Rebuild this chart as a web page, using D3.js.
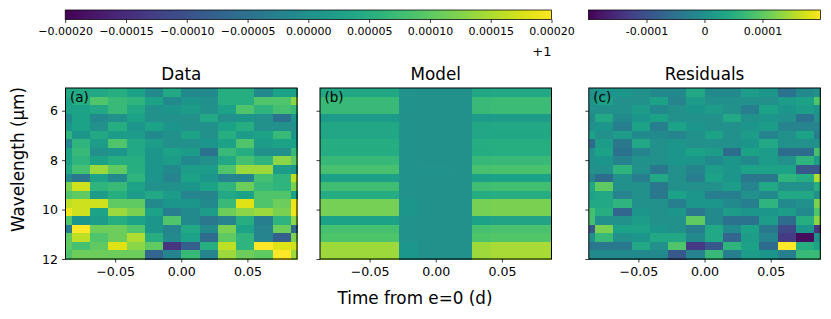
<!DOCTYPE html>
<html><head><meta charset="utf-8">
<script src="https://cdn.jsdelivr.net/npm/d3@7/dist/d3.min.js"></script>
<style>
html,body{margin:0;padding:0;background:#fff}
svg{display:block}
text{font-family:"DejaVu Sans",sans-serif;fill:#000}
</style></head><body>
<svg id="c" width="831" height="319"></svg>
<script>
const timeEdges=[-0.0875,-0.0827,-0.0689,-0.0551,-0.0413,-0.0275,-0.0137,0.0001,0.0139,0.0277,0.0415,0.0553,0.0691,0.0829,0.0875];
const waveEdges=[5.08,5.426,5.772,6.118,6.464,6.81,7.156,7.502,7.848,8.194,8.54,8.886,9.232,9.578,9.924,10.27,10.616,10.962,11.308,11.654,12];
const panelTitles=["Data","Model","Residuals"];
const panelLetters=["(a)","(b)","(c)"];
const timeTicks=[-0.05,0,0.05];
const waveTicks=[6,8,10,12];
const mainBarTicks=[-0.0002,-0.00015,-0.0001,-0.00005,0,0.00005,0.0001,0.00015,0.0002];
const mainBarLabels=["−0.00020","−0.00015","−0.00010","−0.00005","0.00000","0.00005","0.00010","0.00015","0.00020"];
const resBarTicks=[-0.0001,0,0.0001];
const resBarLabels=["-0.0001","0","0.0001"];
// flux minus one (data, model) and residuals, in units of 1e-5
const dataValues=[
[4,4,4,5,3,-1,4,-1,-1,5,5,-1,3,3],
[3,5,9,7,6,3,-1,1,0,5,5,9,9,13],
[3,3,4,7,4,0,1,2,0,3,9,6,8,7],
[-1,3,-1,0,3,0,0,0,4,0,1,0,-5,1],
[1,3,0,5,1,3,1,0,0,3,5,0,0,0],
[6,1,4,2,2,-1,0,3,0,5,2,3,7,1],
[-2,6,2,9,4,2,0,0,1,3,9,2,3,3],
[3,7,0,1,4,1,3,2,-5,7,5,0,0,7],
[3,6,3,5,5,1,2,-1,0,4,8,6,13,10],
[4,8,14,10,5,1,-1,2,2,9,14,14,2,1],
[-1,-4,3,-1,6,1,-2,3,1,-2,-2,8,6,16],
[12,17,6,7,3,0,0,1,3,6,11,7,6,12],
[9,10,2,5,2,4,2,-2,-2,4,3,9,9,3],
[16,17,17,10,10,-1,1,1,-1,7,18,9,11,19],
[19,17,3,14,12,3,-3,-1,2,11,13,14,12,19],
[9,1,2,5,3,1,9,-1,-4,-2,5,-3,6,13],
[-4,20,11,11,9,1,-2,4,-1,12,3,-2,11,-6],
[10,16,9,11,15,5,-1,3,-6,10,6,-2,-8,12],
[10,8,10,18,13,10,-14,-8,5,16,6,20,18,17],
[9,11,11,11,11,-7,-2,7,-2,14,11,10,20,14]];
const modelValues=[
[3.8,3.8,3.8,3.8,3.8,.3,0,0,0,3.8,4,4,4,4],
[7,7,7,7,7,.5,0,0,0,7,7.3,7.3,7.3,7.3],
[7,7,7,7,7,.5,0,0,0,7,7.3,7.3,7.3,7.3],
[1.8,1.8,1.8,1.8,1.8,.1,0,0,0,1.8,1.9,1.9,1.9,1.9],
[3.8,3.8,3.8,3.8,3.8,.3,0,0,0,3.8,4,4,4,4],
[3.6,3.6,3.6,3.6,3.6,.3,0,0,0,3.6,3.8,3.8,3.8,3.8],
[4.8,4.8,4.8,4.8,4.8,.3,0,0,0,4.8,5,5,5,5],
[4.6,4.6,4.6,4.6,4.6,.3,0,0,0,4.6,4.8,4.8,4.8,4.8],
[6.8,6.8,6.8,6.8,6.8,.5,0,0,0,6.8,7,7,7,7],
[8.2,8.2,8.2,8.2,8.2,.5,.2,.2,0,8.2,8.5,8.5,8.5,8.5],
[2.8,2.8,2.8,2.8,2.8,.2,0,0,0,2.8,3,3,3,3],
[7.6,7.6,7.6,7.6,7.6,.5,0,0,0,7.6,7.9,7.9,7.9,7.9],
[4.6,4.6,4.6,4.6,4.6,.3,0,0,0,4.6,4.9,4.9,4.9,4.9],
[11.6,11.6,11.6,11.6,11.6,1,0,0,0,11.6,12,12,12,12],
[11.6,11.6,11.6,11.6,11.6,1,0,0,0,11.6,12,12,12,12],
[3,3,3,3,3,.2,0,0,0,3,3.2,3.2,3.2,3.2],
[8,8,8,8,8,.6,0,0,0,8,8.3,8.3,8.3,8.3],
[8.8,8.8,8.8,8.8,8.8,.6,0,0,0,8.8,9.2,9.2,9.2,9.2],
[14.2,14.2,14.2,14.2,14.2,1.2,0,0,0,14.2,14.8,14.8,14.8,14.8],
[14.2,14.2,14.2,14.2,14.2,1.2,0,0,0,14.2,14.8,14.8,14.8,14.8]];
const residualValues=[
[0,1,1,0,-1,-1,4,-1,-1,2,1,-5,-1,0],
[1,3,0,0,3,-2,2,0,0,0,0,2,3,9],
[0,0,0,2,-1,0,1,2,0,-3,3,1,2,1],
[-1,4,-1,1,3,0,0,0,4,0,1,0,-5,0],
[0,1,-3,3,-3,3,1,0,0,1,2,-2,-2,-2],
[3,0,2,-1,-1,-2,0,3,0,2,-2,0,3,-3],
[-6,2,-4,4,0,1,0,0,0,1,4,0,0,0],
[0,3,-5,-2,0,1,3,2,-6,3,2,-6,-6,8],
[0,1,-2,0,0,1,1,-1,1,-1,2,0,6,2],
[0,0,6,0,-4,0,-2,2,1,3,3,3,-9,-9],
[-2,-6,0,-3,4,0,-3,3,1,-4,-4,6,5,15],
[4,10,0,0,-4,0,0,0,2,-2,4,0,0,5],
[3,4,-2,0,-4,3,1,-3,-3,0,-1,4,4,0],
[4,4,6,0,0,-3,1,1,-1,-3,6,-1,0,12],
[8,5,-7,1,0,1,-4,-1,2,1,1,2,-1,9],
[8,0,0,2,0,0,10,-1,-5,-5,2,-6,5,13],
[-9,12,3,3,1,0,-3,4,-1,3,-4,-11,1,-14],
[0,7,0,1,4,4,-1,4,-7,2,-2,-13,-19,0],
[-4,-4,-4,4,0,9,-13,-9,6,3,-6,20,5,3],
[-1,-1,-1,-1,-1,-9,-2,7,-3,2,1,-3,7,7]];

(function(){
const svg=d3.select("#c");
const plotTop=88,plotBottom=259,w=231.5;
const lefts=[65.5,320,588.8];
const grids=[dataValues,modelValues,residualValues];
const color=d3.scaleSequential(d3.interpolateViridis).domain([-20,20]);
const y=d3.scaleLinear().domain([5.08,12]).range([plotTop,plotBottom]);

const defs=svg.append("defs");
const grad=defs.append("linearGradient").attr("id","vir");
d3.range(0,1.0001,0.02).forEach(t=>grad.append("stop").attr("offset",t).attr("stop-color",d3.interpolateViridis(t)));
defs.append("filter").attr("id","soft").attr("x","-2%").attr("y","-2%").attr("width","104%").attr("height","104%")
  .append("feGaussianBlur").attr("stdDeviation",0.45);

function styleAxis(g,fs){
  g.select(".domain").remove();
  g.selectAll("line").attr("stroke","#000").attr("stroke-width",0.75);
  g.selectAll("text").attr("font-size",fs).attr("font-family",'"DejaVu Sans",sans-serif').attr("fill","#000");
}
grids.forEach((grid,p)=>{
  const x=d3.scaleLinear().domain([-0.0875,0.0875]).range([lefts[p],lefts[p]+w]);
  const g=svg.append("g").attr("filter","url(#soft)").attr("shape-rendering","crispEdges");
  const cells=grid.flatMap((row,i)=>row.map((v,j)=>({i,j,v})));
  g.selectAll("rect").data(cells).join("rect")
    .attr("x",d=>x(timeEdges[d.j]))
    .attr("y",d=>y(waveEdges[d.i]))
    .attr("width",d=>x(timeEdges[d.j+1])-x(timeEdges[d.j])+0.5)
    .attr("height",d=>y(waveEdges[d.i+1])-y(waveEdges[d.i])+0.5)
    .attr("fill",d=>color(d.v));
  svg.append("rect").attr("x",lefts[p]).attr("y",plotTop).attr("width",w).attr("height",plotBottom-plotTop)
    .attr("fill","none").attr("stroke","#000").attr("stroke-width",1);
  const ax=svg.append("g").attr("transform",`translate(0,${plotBottom})`)
    .call(d3.axisBottom(x).tickValues(timeTicks).tickSize(3.5).tickPadding(4.5).tickFormat(d=>d===0?"0.00":(d<0?"−":"")+Math.abs(d).toFixed(2)));
  styleAxis(ax,12.6);
  const ay=svg.append("g").attr("transform",`translate(${lefts[p]},0)`)
    .call(d3.axisLeft(y).tickValues(waveTicks).tickSize(3.5).tickPadding(4).tickFormat(p===0?d3.format("d"):""));
  styleAxis(ay,12.6);
  svg.append("text").attr("x",lefts[p]+w/2).attr("y",79.5).attr("text-anchor","middle").attr("font-size",16.8).text(panelTitles[p]);
  svg.append("text").attr("x",lefts[p]+4.5).attr("y",101.5).attr("font-size",13.5).text(panelLetters[p]);
});

function colorbar(x0,x1,dom,ticks,labels,fs){
  const sc=d3.scaleLinear().domain(dom).range([x0,x1]);
  svg.append("rect").attr("x",x0).attr("y",10).attr("width",x1-x0).attr("height",9.5)
    .attr("fill","url(#vir)").attr("stroke","#000").attr("stroke-width",0.75);
  const a=svg.append("g").attr("transform","translate(0,19.5)")
    .call(d3.axisBottom(sc).tickValues(ticks).tickSize(3.5).tickPadding(4).tickFormat((d,i)=>labels[i]));
  styleAxis(a,fs);
}
colorbar(65.2,551.5,[-0.0002,0.0002],mainBarTicks,mainBarLabels,11);
colorbar(588.5,820.4,[-0.0002,0.0002],resBarTicks,resBarLabels,11);
svg.append("text").attr("x",551.5).attr("y",56).attr("text-anchor","end").attr("font-size",13).text("+1");

svg.append("text").attr("x",415).attr("y",304).attr("text-anchor","middle").attr("font-size",16.8).text("Time from e=0 (d)");
svg.append("text").attr("transform","translate(23.5,159.5) rotate(-90)").attr("text-anchor","middle").attr("font-size",16.8).text("Wavelength (μm)");
})();
</script>
</body></html>
